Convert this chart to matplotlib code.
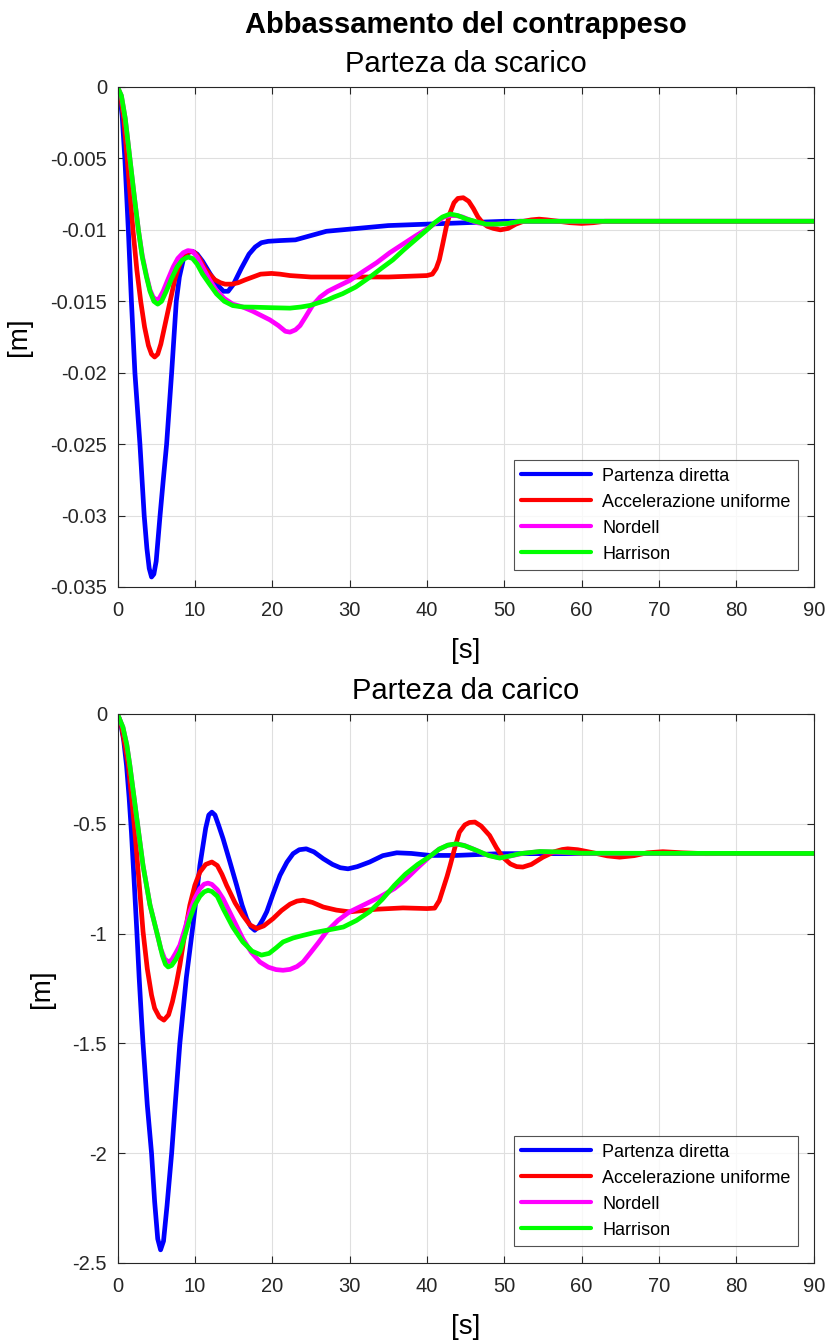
import numpy as np
import matplotlib
matplotlib.use("Agg")
import matplotlib.pyplot as plt

plt.rcParams['font.family'] = ['Liberation Sans', 'DejaVu Sans']

labels = ["Partenza diretta", "Accelerazione uniforme", "Nordell", "Harrison"]
colors = ["#0000ff", "#ff0000", "#ff00ff", "#00ff00"]

# --- Parteza da scarico (top), y in metres ---
t_blue_1 = [0, 0.3, 0.6, 0.95, 1.4, 1.8, 2.25, 2.9, 3.45, 3.8, 4.1, 4.4, 4.7, 5.0, 5.5, 5.9,
            6.35, 7.0, 7.6, 8.0, 8.5, 9.1, 9.7, 10.3, 11.0, 12.0, 13.0, 13.7, 14.3, 15.0, 16.0,
            17.0, 17.8, 18.6, 19.5, 21, 23, 25, 27, 29, 31, 35, 40, 45, 50, 90]
y_blue_1 = [0, -0.0006, -0.002, -0.005, -0.010, -0.015, -0.020, -0.025, -0.030, -0.0323,
            -0.0337, -0.0343, -0.0341, -0.0332, -0.030, -0.0276, -0.025, -0.020, -0.015,
            -0.0133, -0.0121, -0.0116, -0.0115, -0.0117, -0.0122, -0.0131, -0.0139, -0.0143,
            -0.0143, -0.0138, -0.0127, -0.0117, -0.0112, -0.0109, -0.0108, -0.01075, -0.0107,
            -0.0104, -0.0101, -0.0100, -0.0099, -0.0097, -0.0096, -0.0095, -0.0094, -0.0094]

t_red_1 = [0, 0.4, 0.8, 1.25, 2.0, 2.5, 3.0, 3.5, 4.0, 4.4, 4.8, 5.2, 5.6, 6.2, 6.8, 7.4, 7.85,
           8.4, 9.0, 9.5, 10.0, 10.6, 11.3, 11.9, 12.6, 13.3, 13.9, 14.8, 15.6, 16.5, 17.5,
           18.5, 19.9, 21, 22.3, 25, 30, 35, 40.0, 40.7, 41.2, 41.6, 42.0, 42.5, 43.0, 43.5,
           44.0, 44.7, 45.4, 46.0, 46.6, 47.2, 47.8, 48.6, 49.5, 50.5, 51.5, 52.5, 53.5, 54.5,
           55.5, 57, 58.5, 60, 61.5, 63, 65, 90]
y_red_1 = [0, -0.0006, -0.0022, -0.005, -0.010, -0.0128, -0.015, -0.0168, -0.0181, -0.0187,
           -0.0189, -0.0187, -0.0180, -0.0165, -0.0150, -0.0135, -0.0127, -0.0120, -0.0116,
           -0.0115, -0.0116, -0.0120, -0.0127, -0.0131, -0.0135, -0.0137, -0.0138, -0.0138,
           -0.0137, -0.0135, -0.0133, -0.0131, -0.01305, -0.0131, -0.0132, -0.0133, -0.0133,
           -0.0133, -0.0132, -0.0131, -0.0127, -0.0121, -0.0111, -0.0098, -0.0088, -0.0081,
           -0.0078, -0.00775, -0.0080, -0.0085, -0.0091, -0.0095, -0.00975, -0.0099, -0.0100,
           -0.0099, -0.0096, -0.0094, -0.0093, -0.00925, -0.0093, -0.0094, -0.0095, -0.00955,
           -0.0095, -0.0094, -0.0094, -0.0094]

t_mag_1 = [0, 0.5, 1.0, 1.6, 2.2, 2.7, 3.2, 3.75, 4.2, 4.6, 5.0, 5.4, 5.9, 6.5, 7.2, 7.8, 8.5,
           9.1, 9.7, 10.3, 11.0, 11.9, 12.8, 13.8, 14.9, 16.2, 17.5, 18.6, 19.7, 20.8, 21.7,
           22.3, 23.0, 23.6, 24.3, 25.2, 26.2, 27.2, 28.3, 30.0, 31.8, 33.5, 35.2, 36.9,
           38.6, 40.4, 41.4, 42.2, 43.0, 43.8, 44.6, 45.5, 46.5, 47.6, 49, 50.5, 52, 90]
y_mag_1 = [0, -0.0006, -0.0022, -0.005, -0.0078, -0.010, -0.0118, -0.0132, -0.0142, -0.0147,
           -0.0149, -0.0148, -0.0143, -0.0135, -0.0126, -0.0120, -0.0116, -0.01145, -0.0115,
           -0.0119, -0.0126, -0.0135, -0.01425, -0.0148, -0.0152, -0.0154, -0.0157, -0.0160,
           -0.0163, -0.0167, -0.0171, -0.01716, -0.0170, -0.0167, -0.0161, -0.0153, -0.0147,
           -0.0143, -0.0140, -0.01355, -0.0129, -0.0123, -0.0116, -0.0110, -0.0104, -0.0098,
           -0.0094, -0.0091, -0.0090, -0.0090, -0.0091, -0.0093, -0.0095, -0.0096, -0.0096,
           -0.00955, -0.0094, -0.0094]

t_grn_1 = [0, 0.5, 1.0, 1.6, 2.2, 2.7, 3.2, 3.75, 4.2, 4.7, 5.2, 5.7, 6.3, 7.0, 7.7, 8.4, 9.1,
           9.7, 10.3, 11.0, 11.9, 12.8, 13.8, 14.9, 16.2, 17.5, 20.0, 22.3, 23.7, 24.9, 26,
           27.0, 28.0, 29.1, 30.8, 32.6, 34.1, 35.6, 37.0, 38.5, 40.0, 41.0, 42.0, 43.0, 44.0,
           45.1, 46.2, 47.6, 49, 50.5, 52, 90]
y_grn_1 = [0, -0.0006, -0.0022, -0.005, -0.0078, -0.010, -0.0119, -0.0133, -0.0143, -0.0150,
           -0.0152, -0.0150, -0.0143, -0.0134, -0.0126, -0.0121, -0.0119, -0.0120, -0.0124,
           -0.0131, -0.0138, -0.01448, -0.0150, -0.0153, -0.0154, -0.01541, -0.01545,
           -0.01548, -0.0154, -0.01529, -0.0151, -0.01494, -0.0147, -0.01447, -0.0140,
           -0.01332, -0.0127, -0.0121, -0.0114, -0.0107, -0.0100, -0.0095, -0.0091, -0.00889,
           -0.0090, -0.00924, -0.0094, -0.0096, -0.0096, -0.00955, -0.0094, -0.0094]

# --- Parteza da carico (bottom), y in metres ---
t_blue_2 = [0, 0.4, 0.8, 1.17, 1.5, 1.8, 2.15, 2.5, 2.8, 3.1, 3.3, 3.85, 4.4, 4.8, 5.2, 5.57,
            5.95, 6.4, 7.0, 7.5, 8.06, 8.9, 9.8, 10.65, 11.4, 11.8, 12.2, 12.6, 13.1, 13.65,
            14.5, 15.4, 16.1, 16.7, 17.25, 17.75, 18.3, 18.8, 19.3, 20.1, 21.0, 21.9, 22.7,
            23.5, 24.4, 25.4, 26.6, 27.8, 28.8, 29.8, 31.0, 32.6, 34.3, 36.1, 38.0, 40.4,
            43.8, 49.4, 90]
y_blue_2 = [0, -0.04, -0.12, -0.235, -0.38, -0.538, -0.76, -0.99, -1.2, -1.386, -1.5, -1.78,
            -2.0, -2.22, -2.39, -2.44, -2.40, -2.24, -2.0, -1.76, -1.5, -1.2, -0.95, -0.69,
            -0.52, -0.46, -0.447, -0.46, -0.51, -0.568, -0.67, -0.78, -0.87, -0.932, -0.97,
            -0.985, -0.965, -0.935, -0.90, -0.82, -0.735, -0.675, -0.636, -0.618, -0.614,
            -0.628, -0.659, -0.685, -0.700, -0.705, -0.695, -0.674, -0.645, -0.632, -0.635,
            -0.644, -0.644, -0.636, -0.635]

t_red_2 = [0, 0.5, 1.0, 1.4, 1.8, 2.25, 2.8, 3.3, 3.85, 4.4, 4.8, 5.4, 6.0, 6.6, 7.1, 7.6,
           8.06, 8.7, 9.35, 10.0, 10.65, 11.4, 12.2, 12.9, 13.5, 14.1, 15.2, 16.2, 17.1, 18.0,
           18.9, 20.1, 21.2, 22.3, 23.2, 24.0, 25.2, 26.6, 28.3, 30.0, 33.5, 36.9, 40.0, 41.0,
           41.6, 42.1, 42.6, 43.0, 43.6, 44.2, 44.9, 45.5, 46.2, 47.0, 48.1, 49.0, 49.8, 50.8,
           51.6, 52.4, 53.5, 55.0, 56.5, 57.5, 58.2, 59.5, 61.5, 63.3, 64.9, 66.8, 68.5, 70.5,
           73, 76, 90]
y_red_2 = [0, -0.05, -0.15, -0.235, -0.37, -0.538, -0.77, -0.99, -1.16, -1.28, -1.34, -1.38,
           -1.394, -1.37, -1.31, -1.23, -1.144, -1.0, -0.871, -0.78, -0.72, -0.685, -0.674,
           -0.69, -0.73, -0.78, -0.86, -0.917, -0.96, -0.977, -0.965, -0.932, -0.895, -0.866,
           -0.852, -0.848, -0.858, -0.879, -0.893, -0.901, -0.889, -0.883, -0.886, -0.884,
           -0.85, -0.795, -0.74, -0.69, -0.61, -0.538, -0.505, -0.494, -0.492, -0.51, -0.553,
           -0.61, -0.652, -0.683, -0.695, -0.697, -0.685, -0.652, -0.627, -0.617, -0.614,
           -0.618, -0.632, -0.646, -0.652, -0.645, -0.632, -0.627, -0.632, -0.636, -0.635]

t_mag_2 = [0, 0.7, 1.2, 1.6, 2.4, 3.3, 4.2, 5.05, 5.6, 6.1, 6.55, 7.0, 7.5, 8.06, 8.7, 9.35,
           10.0, 10.65, 11.2, 11.7, 12.2, 12.9, 13.65, 14.9, 16.2, 17.3, 18.4, 19.5, 20.5,
           21.4, 22.3, 23.2, 24.0, 25.0, 26.0, 27.0, 28.5, 30.0, 31.8, 33.8, 35.8, 37.2,
           38.8, 40.4, 41.6, 42.7, 43.8, 44.8, 46.0, 47.6, 49.4, 51.0, 52.5, 54.6, 57.0, 60,
           90]
y_mag_2 = [0, -0.06, -0.14, -0.235, -0.45, -0.69, -0.87, -0.99, -1.07, -1.115, -1.129,
           -1.12, -1.09, -1.053, -0.98, -0.90, -0.84, -0.795, -0.775, -0.77, -0.776, -0.80,
           -0.841, -0.93, -1.023, -1.085, -1.129, -1.153, -1.164, -1.167, -1.163, -1.15,
           -1.129, -1.085, -1.04, -0.992, -0.94, -0.901, -0.87, -0.835, -0.795, -0.755,
           -0.70, -0.648, -0.615, -0.598, -0.592, -0.598, -0.615, -0.64, -0.655, -0.645,
           -0.634, -0.627, -0.630, -0.635, -0.635]

t_grn_2 = [0, 0.7, 1.2, 1.6, 2.4, 3.3, 4.2, 5.26, 5.8, 6.2, 6.55, 7.0, 7.5, 8.06, 8.7, 9.35,
           10.0, 10.65, 11.2, 11.7, 12.2, 12.9, 13.65, 14.9, 16.2, 17.4, 18.6, 19.6, 20.5,
           21.4, 22.7, 24.0, 25.5, 27.0, 28.2, 29.2, 30.9, 32.6, 34.2, 35.8, 37.2, 38.8, 40.4,
           41.6, 42.7, 43.8, 44.9, 46.4, 48.0, 49.4, 50.8, 52.0, 54.6, 57.0, 60, 90]
y_grn_2 = [0, -0.06, -0.14, -0.235, -0.45, -0.69, -0.87, -1.02, -1.10, -1.14, -1.152,
           -1.145, -1.12, -1.083, -1.01, -0.932, -0.87, -0.83, -0.81, -0.803, -0.808, -0.83,
           -0.886, -0.97, -1.038, -1.08, -1.098, -1.09, -1.065, -1.038, -1.02, -1.008, -0.995,
           -0.985, -0.977, -0.97, -0.94, -0.90, -0.845, -0.78, -0.73, -0.685, -0.648, -0.615,
           -0.597, -0.591, -0.600, -0.621, -0.645, -0.656, -0.646, -0.636, -0.626, -0.628,
           -0.634, -0.635]

panels = [
    ("Parteza da scarico",
     [(t_blue_1, y_blue_1), (t_red_1, y_red_1), (t_mag_1, y_mag_1), (t_grn_1, y_grn_1)],
     [0, -0.005, -0.01, -0.015, -0.02, -0.025, -0.03, -0.035],
     ["0", "-0.005", "-0.01", "-0.015", "-0.02", "-0.025", "-0.03", "-0.035"]),
    ("Parteza da carico",
     [(t_blue_2, y_blue_2), (t_red_2, y_red_2), (t_mag_2, y_mag_2), (t_grn_2, y_grn_2)],
     [0, -0.5, -1, -1.5, -2, -2.5],
     ["0", "-0.5", "-1", "-1.5", "-2", "-2.5"]),
]

W, H = 830, 1342
fig = plt.figure(figsize=(W / 100, H / 100), dpi=100)
axc = '#262626'

boxes = [(117.5, 87, 813.7, 587), (117.5, 714, 813.7, 1263)]
for (title, series, yt, ytl), (x0, y0, x1, y1) in zip(panels, boxes):
    ax = fig.add_axes([x0 / W, 1 - y1 / H, (x1 - x0) / W, (y1 - y0) / H])
    for (tt, yy), c, lab in zip(series, colors, labels):
        ax.plot(tt, yy, color=c, linewidth=3.4, label=lab,
                solid_capstyle='round', solid_joinstyle='round')
    ax.set_xlim(0, 90)
    ax.set_ylim(yt[-1], 0)
    ax.set_xticks(np.arange(0, 91, 10))
    ax.set_yticks(yt)
    ax.set_yticklabels(ytl)
    ax.grid(True, color='#dfdfdf', linewidth=0.8)
    ax.set_axisbelow(True)
    ax.tick_params(direction='in', length=5, width=0.8, top=True, right=True,
                   labelsize=14.5, colors=axc)
    ax.tick_params(axis='x', pad=10)
    ax.tick_params(axis='y', pad=7.5)
    for s in ax.spines.values():
        s.set_color(axc)
        s.set_linewidth(0.8)
    ax.set_title(title, fontsize=21, color='black', pad=11)
    ax.set_xlabel("[s]", fontsize=20, color='black', labelpad=13)
    ax.set_ylabel("[m]", fontsize=20, color='black', labelpad=13)
    leg = ax.legend(loc='lower right', bbox_to_anchor=(1 - 16 / 696, 17 / (y1 - y0)),
                    borderaxespad=0, fontsize=13, frameon=True, fancybox=False,
                    handlelength=3.9, handletextpad=0.6, labelspacing=0.5,
                    borderpad=0.4, edgecolor=axc)
    leg.get_frame().set_linewidth(0.8)
    for ln in leg.get_lines():
        ln.set_linewidth(3)

fig.text(465.6 / W, 1 - 25 / H, "Abbassamento del contrappeso", ha='center', va='center',
         fontsize=21, fontweight='bold')

fig.savefig("out.png", dpi=100)
